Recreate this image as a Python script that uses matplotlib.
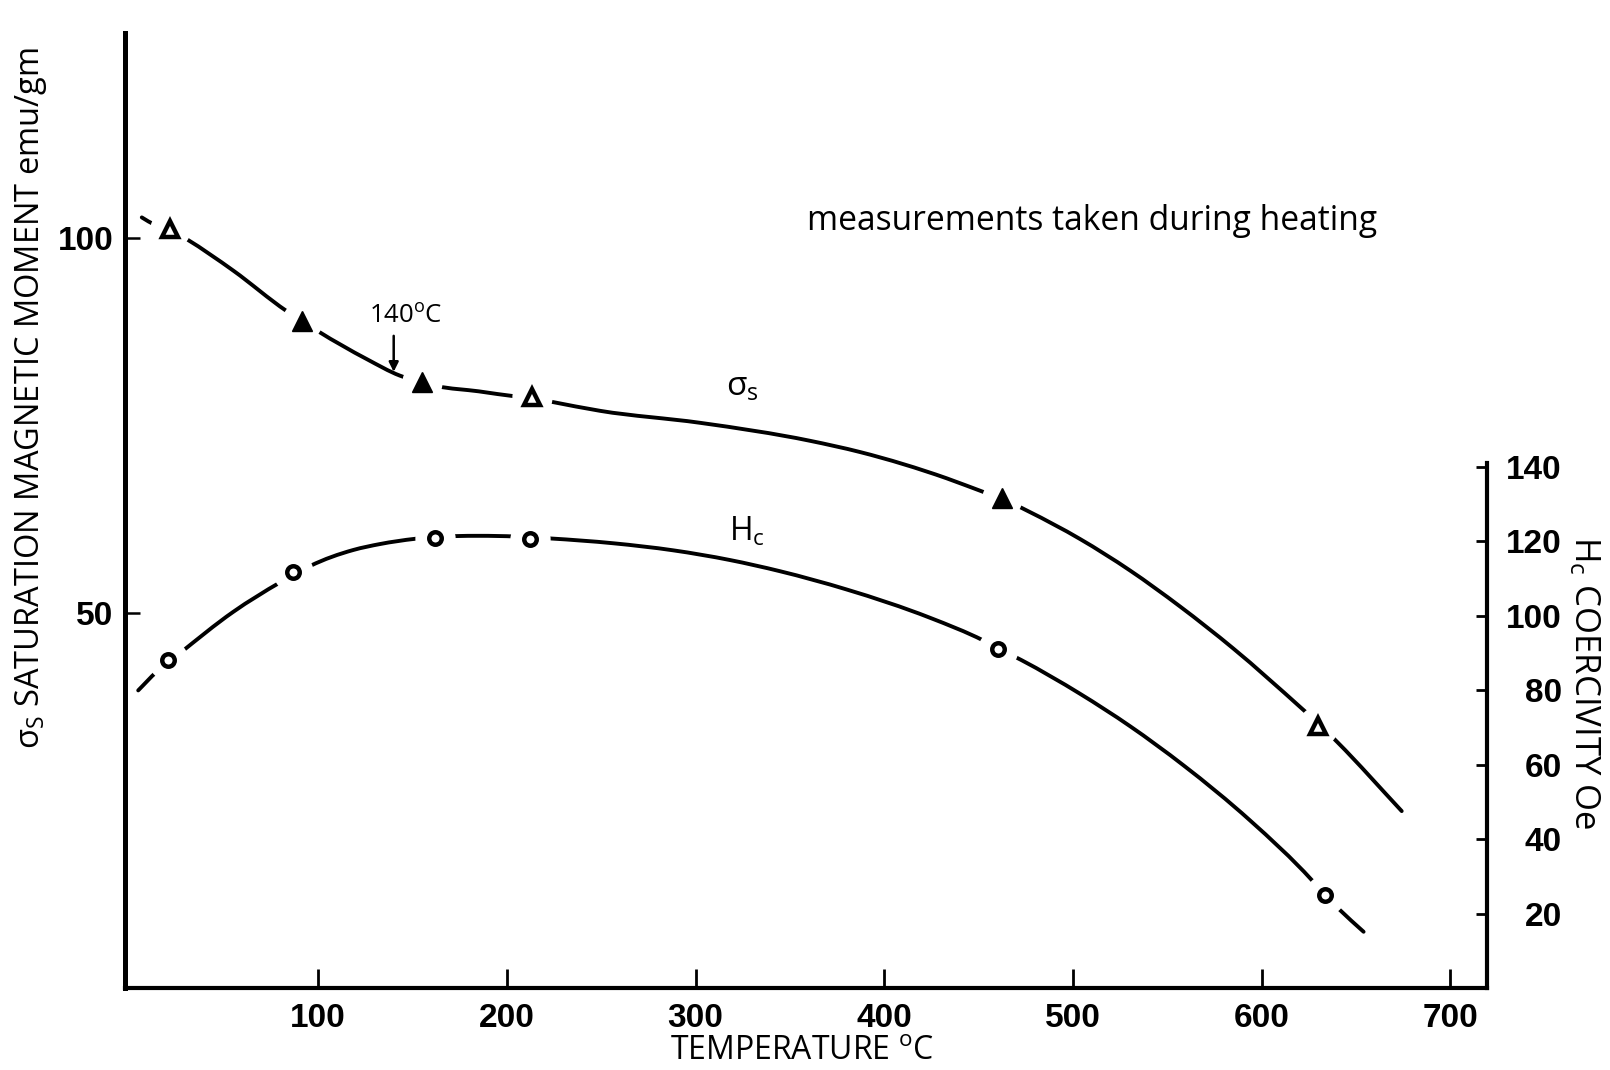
import matplotlib
matplotlib.use("Agg")
import numpy as np
import matplotlib.pyplot as plt
from matplotlib.path import Path
from matplotlib.patches import PathPatch

plt.rcParams["font.family"] = ["Open Sans", "DejaVu Sans"]
plt.rcParams["mathtext.fontset"] = "custom"
plt.rcParams["mathtext.rm"] = "Open Sans"
plt.rcParams["mathtext.it"] = "Open Sans:italic"
plt.rcParams["mathtext.bf"] = "Open Sans:bold"
plt.rcParams["mathtext.fallback"] = "stixsans"

# Measured points: saturation moment (left axis)
temp_sigma = [21.5, 91.3, 154.8, 213.1, 462.2, 630.0]
sigma_s = [101.2, 89.0, 80.8, 78.8, 65.4, 35.0]
sigma_open = [True, False, False, True, False, True]

# Measured points: coercivity (right axis)
temp_hc = [20.6, 86.8, 161.9, 212.2, 460.4, 633.5]
hc = [88.0, 111.7, 120.9, 120.5, 91.1, 24.9]

# Hand-drawn curves through the measurements (traced points)
curve_sigma_t = [6.5, 13.5, 21.5, 30.3, 55.0, 83.3, 91.3, 100.0, 125.7, 143.2,
                 154.8, 162.8, 185.0, 205.2, 213.1, 223.7, 249.3, 302.3, 360.6,
                 387.1, 433.0, 453.3, 462.2, 476.3, 503.7, 530.2, 556.7, 584.9,
                 621.2, 630.0, 640.1, 674.2]
curve_sigma_v = [102.8, 101.8, 101.2, 99.9, 95.7, 90.3, 89.0, 87.6, 83.9, 81.7,
                 80.8, 80.3, 79.6, 78.9, 78.7, 78.2, 77.0, 75.4, 73.0,
                 71.5, 68.0, 66.1, 65.3, 63.6, 59.9, 55.7, 50.9, 45.3,
                 37.3, 35.3, 32.8, 23.6]

curve_hc_t = [4.6, 14.4, 20.6, 26.0, 55.0, 79.8, 86.8, 95.7, 118.6, 132.8,
              151.3, 161.9, 185.0, 205.0, 212.2, 222.8, 256.4, 288.2, 318.2,
              344.7, 380.0, 424.2, 452.5, 460.4, 472.8, 503.7, 530.2, 558.5,
              593.8, 626.5, 633.5, 640.7, 654.0]
curve_hc_v = [79.9, 84.9, 87.4, 89.6, 101.0, 108.9, 110.9, 113.3, 117.6, 119.2,
              120.6, 121.1, 121.4, 121.2, 121.0, 120.7, 119.4, 117.5, 114.9,
              111.9, 107.0, 99.4, 93.3, 91.2, 88.0, 79.0, 70.3, 59.8,
              45.0, 29.0, 25.0, 21.3, 15.1]

x_ticks = [100, 200, 300, 400, 500, 600, 700]
x_tick_labels = ["100", "200", "300", "400", "500", "600", "700"]
left_ticks = [50, 100]
left_tick_labels = ["50", "100"]
right_ticks = [20, 40, 60, 80, 100, 120, 140]
right_tick_labels = ["20", "40", "60", "80", "100", "120", "140"]


def smooth_curve(axes, xs, ys, **kw):
    """Draw a smooth pen-like line through the traced points: cubic Hermite
    segments (slopes from neighbouring secants) rendered as Bezier curves."""
    x = np.asarray(xs, dtype=float)
    y = np.asarray(ys, dtype=float)
    h = np.diff(x)
    d = np.diff(y) / h
    m = np.empty_like(x)
    m[0], m[-1] = d[0], d[-1]
    m[1:-1] = (d[:-1] * h[1:] + d[1:] * h[:-1]) / (h[:-1] + h[1:])
    verts = [(x[0], y[0])]
    codes = [Path.MOVETO]
    for i in range(len(x) - 1):
        k = h[i] / 3.0
        verts += [(x[i] + k, y[i] + m[i] * k),
                  (x[i + 1] - k, y[i + 1] - m[i + 1] * k),
                  (x[i + 1], y[i + 1])]
        codes += [Path.CURVE4] * 3
    patch = PathPatch(Path(verts, codes), fill=False, transform=axes.transData,
                      **kw)
    axes.add_patch(patch)
    return patch


fig = plt.figure(figsize=(16.1, 10.7), dpi=100)
W, H = 1610, 1070
ax = fig.add_axes([125 / W, 1 - 988 / H, (1487 - 125) / W, (988 - 33) / H])
ax2 = ax.twinx()

ax.set_xlim(-2.4, 719.4)
ax.set_ylim(0, 127.4)
ax2.set_ylim(0, 256.4)

tick_font = dict(family=["Liberation Sans", "DejaVu Sans"],
                 weight="bold", size=24)

# Spines
for s in ("top", "right"):
    ax.spines[s].set_visible(False)
for s in ("top", "left", "bottom"):
    ax2.spines[s].set_visible(False)
ax.spines["left"].set_linewidth(3.6)
ax.spines["bottom"].set_linewidth(3.0)
ax2.spines["right"].set_linewidth(3.0)
ax2.spines["right"].set_bounds(0, 141)

# Ticks
ax.set_xticks(x_ticks)
ax.set_xticklabels(x_tick_labels, fontdict=tick_font)
ax.set_yticks(left_ticks)
ax.set_yticklabels(left_tick_labels, fontdict=tick_font)
ax2.set_yticks(right_ticks)
ax2.set_yticklabels(right_tick_labels, fontdict=tick_font, ha="right")
ax.tick_params(axis="x", direction="in", length=14, width=2.0, pad=11)
ax.tick_params(axis="y", direction="in", length=11, width=1.8, pad=8.5)
ax2.tick_params(axis="y", direction="in", length=8, width=2.0, pad=54)

# Curves
line_kw = dict(edgecolor="black", linewidth=2.8, capstyle="round", zorder=2)
smooth_curve(ax, curve_sigma_t, curve_sigma_v, **line_kw)
smooth_curve(ax2, curve_hc_t, curve_hc_v, **line_kw)

# White halos leave gaps in the curves around each point
ax.plot(temp_sigma, sigma_s, linestyle="none", marker="o", ms=29,
        mfc="white", mec="none", zorder=3)
ax2.plot(temp_hc, hc, linestyle="none", marker="o", ms=29,
         mfc="white", mec="none", zorder=3)

# Triangles: open and solid
for t, v, op in zip(temp_sigma, sigma_s, sigma_open):
    if op:
        ax.plot([t], [v], linestyle="none", marker="^", ms=12, mfc="white",
                mec="black", mew=3.2, zorder=4)
    else:
        ax.plot([t], [v], linestyle="none", marker="^", ms=14.5, mfc="black",
                mec="black", mew=1, zorder=4)

# Circles
ax2.plot(temp_hc, hc, linestyle="none", marker="o", ms=9, mfc="white",
         mec="black", mew=3.2, zorder=4)

# Curve labels and notes
ax.text(324.6, 80.2, r"$\mathrm{σ_s}$", fontsize=24, ha="center", va="center")
ax2.text(327.2, 122.5, r"$\mathrm{H_c}$", fontsize=23, ha="center",
         va="center")
ax.annotate("", xy=(140, 82.2), xytext=(140, 87.0),
            arrowprops=dict(arrowstyle="-|>", lw=1.8, color="black",
                            mutation_scale=14, shrinkA=0, shrinkB=0))
ax.text(146.3, 89.6, r"140$^{\mathrm{o}}$C", fontsize=18.5, ha="center",
        va="center")
fig.text(807 / W, 1 - 221 / H, "measurements taken during heating",
         fontsize=24.2, ha="left", va="center")

# Axis titles
fig.text(31 / W, 1 - 398 / H,
         r"$\mathrm{σ_S}$ SATURATION MAGNETIC MOMENT emu/gm",
         rotation=90, ha="center", va="center", fontsize=23.5)
fig.text(1584 / W, 1 - 683 / H, r"$\mathrm{H_c}$ COERCIVITY Oe",
         rotation=-90, ha="center", va="center", fontsize=25)
fig.text(802 / W, 1 - 1060 / H, r"TEMPERATURE $^{\mathrm{o}}$C",
         ha="center", va="baseline", fontsize=23)

fig.savefig("out.png", dpi=100, facecolor="white")
